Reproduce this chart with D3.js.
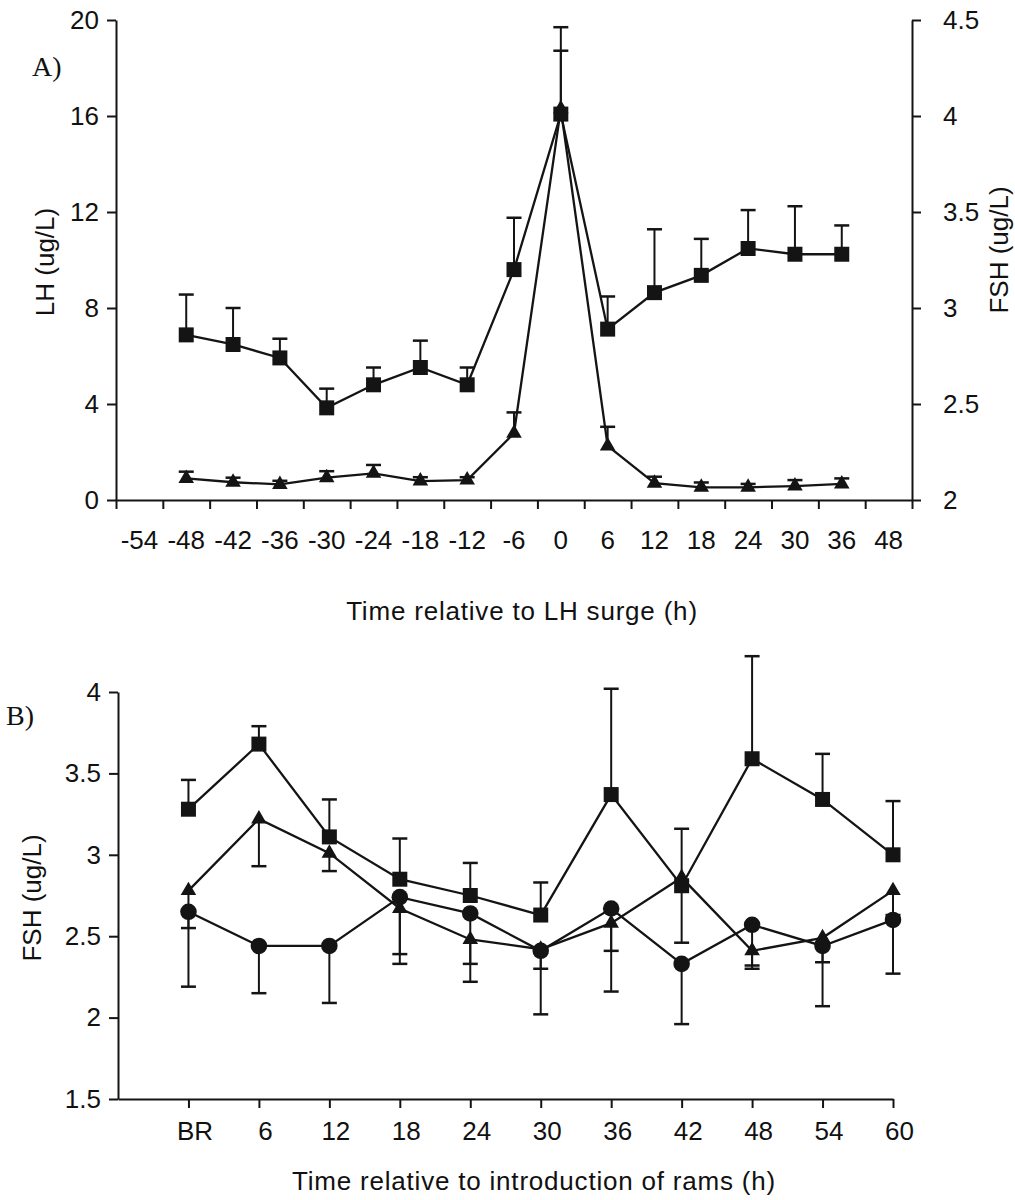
<!DOCTYPE html>
<html>
<head>
<meta charset="utf-8">
<script src="https://cdn.jsdelivr.net/npm/d3@7"></script>
<style>
  body { margin: 0; background: #fff; }
  text { font-family: "Liberation Sans", Arial, sans-serif; fill: #111; }
</style>
</head>
<body>
<svg id="chart" width="1015" height="1200"></svg>
<script>
// panel A: time relative to LH surge
var catsA = ['-54', '-48', '-42', '-36', '-30', '-24', '-18', '-12', '-6', '0', '6', '12', '18', '24', '30', '36', '48']
var timesA = ['-48', '-42', '-36', '-30', '-24', '-18', '-12', '-6', '0', '6', '12', '18', '24', '30', '36']
var lhA = [0.90, 0.74, 0.65, 0.93, 1.11, 0.79, 0.83, 2.78, 16.3, 2.25, 0.70, 0.53, 0.53, 0.58, 0.67]
var lhErrA = [0.28, 0.19, 0.15, 0.27, 0.35, 0.16, 0.12, 0.87, 3.4, 0.8, 0.27, 0.2, 0.14, 0.25, 0.23]
var fshA = [2.86, 2.81, 2.74, 2.48, 2.60, 2.69, 2.60, 3.20, 4.01, 2.89, 3.08, 3.17, 3.31, 3.28, 3.28]
var fshErrA = [0.21, 0.19, 0.10, 0.10, 0.09, 0.14, 0.09, 0.27, 0.33, 0.17, 0.33, 0.19, 0.20, 0.25, 0.15]
var lhTicks = [0, 4, 8, 12, 16, 20]
var fshTicksA = [2, 2.5, 3, 3.5, 4, 4.5]

// panel B: time relative to introduction of rams
var catsB = ['BR', '6', '12', '18', '24', '30', '36', '42', '48', '54', '60']
var squareB = [3.28, 3.68, 3.11, 2.85, 2.75, 2.63, 3.37, 2.81, 3.59, 3.34, 3.00]
var squareErrB = [0.18, 0.11, 0.23, 0.25, 0.20, 0.20, 0.65, 0.35, 0.63, 0.28, 0.33]
var triangleB = [2.78, 3.22, 3.01, 2.67, 2.48, 2.42, 2.58, 2.86, 2.41, 2.49, 2.78]
var triangleErrB = [0.23, 0.29, 0.11, 0.28, 0.15, 0.12, 0.17, 0.40, 0.11, 0.15, 0.15]
var circleB = [2.65, 2.44, 2.44, 2.74, 2.64, 2.41, 2.67, 2.33, 2.57, 2.44, 2.60]
var circleErrB = [0.46, 0.29, 0.35, 0.41, 0.42, 0.39, 0.51, 0.37, 0.25, 0.37, 0.33]
var fshTicksB = [1.5, 2, 2.5, 3, 3.5, 4]

var svg = d3.select('#chart')
var ink = '#141414'
var capW = 15
var fs = 26

function styleAxis(g) {
  g.selectAll('path.domain').attr('stroke', ink).attr('stroke-width', 2)
  g.selectAll('.tick line').attr('stroke', ink).attr('stroke-width', 2)
  g.selectAll('.tick text').attr('font-size', fs).attr('fill', '#111')
    .style('font-family', '"Liberation Sans", Arial, sans-serif')
}

function drawErrors(g, xs, ys, errs, x, y, dir) {
  var d = xs.map(function (t, i) { return { x: x(t), y0: y(ys[i]), y1: y(ys[i] + dir * errs[i]) } })
  g.selectAll(null).data(d).enter().append('line')
    .attr('x1', function (p) { return p.x }).attr('x2', function (p) { return p.x })
    .attr('y1', function (p) { return p.y0 }).attr('y2', function (p) { return p.y1 })
    .attr('stroke', ink).attr('stroke-width', 2)
  g.selectAll(null).data(d).enter().append('line')
    .attr('x1', function (p) { return p.x - capW / 2 }).attr('x2', function (p) { return p.x + capW / 2 })
    .attr('y1', function (p) { return p.y1 }).attr('y2', function (p) { return p.y1 })
    .attr('stroke', ink).attr('stroke-width', 2.5)
}

function drawSeries(g, xs, ys, x, y, symbol, size) {
  var line = d3.line().x(function (t) { return x(t) }).y(function (t, i) { return y(ys[i]) })
  g.append('path').datum(xs).attr('d', line)
    .attr('fill', 'none').attr('stroke', ink).attr('stroke-width', 2.3)
  g.selectAll(null).data(xs).enter().append('path')
    .attr('d', d3.symbol().type(symbol).size(size))
    .attr('transform', function (t, i) { return 'translate(' + x(t) + ',' + y(ys[i]) + ')' })
    .attr('fill', ink)
}

// ---------- panel A ----------
var xA = d3.scaleBand().domain(catsA).range([116, 912])
var xAc = function (t) { return xA(t) + xA.bandwidth() / 2 }
var xAedge = d3.scaleLinear().domain([0, catsA.length]).range([116, 912])
var yL = d3.scaleLinear().domain([0, 20]).range([500, 20])
var yR = d3.scaleLinear().domain([2, 4.5]).range([500, 20])

var gA = svg.append('g')

gA.append('g').attr('transform', 'translate(0,500)')
  .call(d3.axisBottom(xAedge).tickValues(d3.range(0, catsA.length + 1)).tickSize(9).tickFormat('').tickSizeOuter(0))
  .call(styleAxis)
gA.append('g').attr('transform', 'translate(0,500)')
  .call(d3.axisBottom(xA).tickSize(0).tickPadding(31))
  .call(styleAxis)
  .call(function (g) { g.select('path.domain').remove() })
gA.append('g').attr('transform', 'translate(116,0)')
  .call(d3.axisLeft(yL).tickValues(lhTicks).tickSize(9).tickPadding(8).tickSizeOuter(0))
  .call(styleAxis)
gA.append('g').attr('transform', 'translate(912,0)')
  .call(d3.axisRight(yR).tickValues(fshTicksA).tickSize(9).tickPadding(22).tickFormat(d3.format('~g')).tickSizeOuter(0))
  .call(styleAxis)

drawErrors(gA, timesA, lhA, lhErrA, xAc, yL, 1)
drawErrors(gA, timesA, fshA, fshErrA, xAc, yR, 1)
drawSeries(gA, timesA, lhA, xAc, yL, d3.symbolTriangle, 105)
drawSeries(gA, timesA, fshA, xAc, yR, d3.symbolSquare, 225)

gA.append('text').attr('x', 32).attr('y', 76).attr('font-size', 28)
  .style('font-family', '"Liberation Serif", "Times New Roman", serif').text('A)')
gA.append('text').attr('transform', 'translate(54,262) rotate(-90)').attr('text-anchor', 'middle')
  .attr('font-size', fs).text('LH (ug/L)')
gA.append('text').attr('transform', 'translate(1008,250) rotate(-90)').attr('text-anchor', 'middle')
  .attr('font-size', fs).text('FSH (ug/L)')
gA.append('text').attr('x', 522).attr('y', 620).attr('text-anchor', 'middle')
  .attr('font-size', fs).attr('letter-spacing', 0.8).text('Time relative to LH surge (h)')

// ---------- panel B ----------
var xB = d3.scaleLinear().domain([-1, catsB.length - 1]).range([118, 893])
var xBi = function (t) { return xB(catsB.indexOf(t)) }
var yB = d3.scaleLinear().domain([1.5, 4]).range([1099, 692])

var gB = svg.append('g')

gB.append('g').attr('transform', 'translate(0,1099)')
  .call(d3.axisBottom(xB).tickValues(d3.range(0, catsB.length)).tickSize(9).tickPadding(14)
    .tickFormat(function (i) { return catsB[i] }).tickSizeOuter(0))
  .call(styleAxis)
  .call(function (g) { g.selectAll('.tick text').attr('dx', 6) })
gB.append('g').attr('transform', 'translate(118,0)')
  .call(d3.axisLeft(yB).tickValues(fshTicksB).tickSize(9).tickPadding(8).tickFormat(d3.format('~g')).tickSizeOuter(0))
  .call(styleAxis)

drawErrors(gB, catsB, circleB, circleErrB, xBi, yB, -1)
drawErrors(gB, catsB, triangleB, triangleErrB, xBi, yB, -1)
drawErrors(gB, catsB, squareB, squareErrB, xBi, yB, 1)
drawSeries(gB, catsB, circleB, xBi, yB, d3.symbolCircle, 215)
drawSeries(gB, catsB, triangleB, xBi, yB, d3.symbolTriangle, 105)
drawSeries(gB, catsB, squareB, xBi, yB, d3.symbolSquare, 225)

gB.append('text').attr('x', 6).attr('y', 725).attr('font-size', 28)
  .style('font-family', '"Liberation Serif", "Times New Roman", serif').text('B)')
gB.append('text').attr('transform', 'translate(41,898) rotate(-90)').attr('text-anchor', 'middle')
  .attr('font-size', fs).text('FSH (ug/L)')
gB.append('text').attr('x', 534).attr('y', 1190).attr('text-anchor', 'middle')
  .attr('font-size', fs).attr('letter-spacing', 0.8).text('Time relative to introduction of rams (h)')
</script>
</body>
</html>
